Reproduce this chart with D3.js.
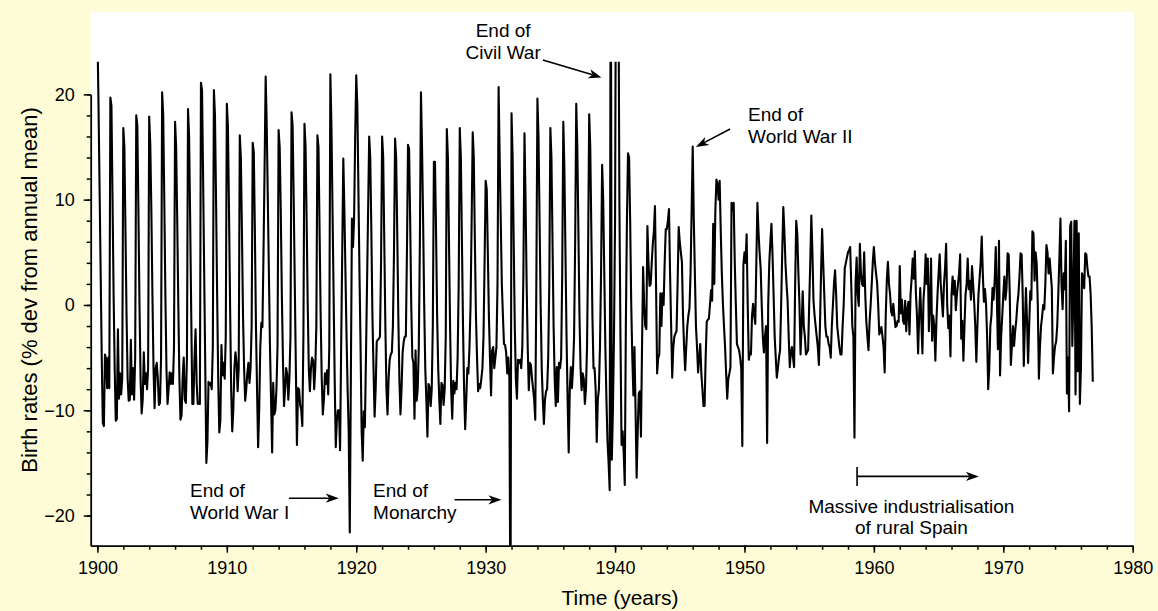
<!DOCTYPE html>
<html>
<head>
<meta charset="utf-8">
<script src="https://cdn.jsdelivr.net/npm/d3@7"></script>
<style>
  html, body { margin: 0; padding: 0; background: #fdfcd6; }
  svg { display: block; }
  text { font-family: "Liberation Sans", Arial, Helvetica, sans-serif; fill: #000; }
</style>
</head>
<body>
<svg id="chart" width="1158" height="611"></svg>
<script>
// Monthly birth rates in Spain, % deviation from the annual mean, Jan 1900 – Dec 1976.
const firstYear = 1900;
const birthDeviation = [
  /* 1900 */ 26, 19, 11, 3, -5, -11.2, -11.5, -4.7, -5.1, -7.9, -5, -7.9,
  /* 1901 */ 19.7, 18.9, 10, 1, -6, -11, -10.8, -2.3, -8.9, -6.5, -8.5, -7,
  /* 1902 */ 16.8, 15, 7, -1, -7, -9.1, -9, -3.3, -8.5, -6, -9, -5,
  /* 1903 */ 18, 17, 9, 0, -7, -10.3, -9, -4.5, -7.5, -6.5, -8, -6,
  /* 1904 */ 17.9, 15.3, 9, 1, -6, -9.8, -6, -5.5, -7, -9.5, -9.3, -5,
  /* 1905 */ 20.2, 18, 10, 1, -6, -9.4, -8, -6.4, -7.5, -6.5, -7.5, -4,
  /* 1906 */ 17.4, 15, 8, 0, -7, -10.9, -10.5, -7, -5, -9, -9.3, -5,
  /* 1907 */ 18.6, 16, 8, -1, -9.4, -9.4, -5, -2.3, -7.4, -9.4, -9.3, -9.4,
  /* 1908 */ 21.1, 20.4, 12, 3, -6, -15, -13, -7.3, -7.6, -7.4, -8, -4,
  /* 1909 */ 20.4, 18, 10, 1, -7, -12.1, -11, -3.8, -6.7, -5.5, -7, -3,
  /* 1910 */ 19.1, 17, 9, 0, -8, -12, -10, -6, -4.5, -5.5, -8.2, -6,
  /* 1911 */ 16.1, 14, 7, -1, -6, -9.1, -8, -6.5, -5.5, -7.4, -6, -2,
  /* 1912 */ 15.4, 14.5, 7, -2, -8, -13.5, -10, -4, -1.7, -2.1, 5, 13,
  /* 1913 */ 21.7, 17, 10, 3, -4, -9, -14, -7.4, -10.4, -10, -8, -4,
  /* 1914 */ 16.6, 15, 9, 1, -5, -9.6, -8, -6, -6.6, -9, -7, -3,
  /* 1915 */ 18.3, 17, 10, 2, -6, -13.3, -7.9, -8, -9.5, -10, -11.5, -3,
  /* 1916 */ 17.2, 15, 8, 0, -6, -8.2, -6, -5, -5.3, -8, -6, -2,
  /* 1917 */ 16.1, 15, 7, -1, -7, -10.4, -9, -6.5, -7.5, -6.2, -8.5, -4,
  /* 1918 */ 21.9, 17, 9, 1, -7, -13.5, -11, -10, -10, -13.8, -4, 5,
  /* 1919 */ 13.9, 9, 3, -3, -8, -12, -21.6, -7, 8.2, 5.5, 8.2, 16,
  /* 1920 */ 21.8, 19, 11, 3, -4, -12, -14.8, -10.1, -11.6, -5, 2, 9,
  /* 1921 */ 16, 14, 7, -1, -6, -10.6, -8, -3.5, -3.3, -3.2, -3, 4,
  /* 1922 */ 16, 14, 6, -2, -8, -10.4, -7, -5.2, -4.7, -4.5, -2, 5,
  /* 1923 */ 15.8, 14, 7, -1, -7, -10.4, -8, -4.5, -3.5, -3, -3, 5,
  /* 1924 */ 15.2, 14.8, 8, 0, -5, -5.5, -10.8, -4.3, -9.1, -8, -4, 6,
  /* 1925 */ 20.2, 15, 8, 0, -6, -9, -12.5, -7.5, -7.8, -9.6, -8, -2,
  /* 1926 */ 13.6, 13.6, 7, -1, -6, -9, -11.3, -7.4, -7.6, -9.5, -8, -3,
  /* 1927 */ 16.7, 14, 6, -2, -8, -10.8, -7.2, -8.4, -7.4, -8, -5, 2,
  /* 1928 */ 16.8, 14, 6, -2, -8, -11.8, -9, -6, -6.5, -4, 0, 8,
  /* 1929 */ 16.4, 14, 6, -1, -5, -8.2, -7.5, -7.9, -7, -6, -3, 4,
  /* 1930 */ 11.8, 11, 5, -1, -5, -8.6, -4.3, -4, -6, -5, -4, 2,
  /* 1931 */ 20.7, 14, 8, 2, -1, -3.7, -3.8, -4.5, -6.5, -5, -7, -32,
  /* 1932 */ 18.2, 14, 6, -2, -7, -8.9, -5.2, -5.5, -5.2, -6, -4, 3,
  /* 1933 */ 16.3, 10, 2, -4, -8.1, -5.5, -5.7, -7, -8, -9, -10.9, 2,
  /* 1934 */ 19.6, 16, 8, 0, -6, -9, -11.3, -9, -8.2, -8, -5, 2,
  /* 1935 */ 16.8, 14, 6, -2, -7, -9.6, -5.9, -9.2, -5.5, -6, -5, 3,
  /* 1936 */ 17.4, 13, 5, -3, -9, -14, -8, -5.9, -7.9, -6, -3, 6,
  /* 1937 */ 19.1, 15, 7, -1, -6, -8.1, -6.5, -7, -9.4, -8, -4, 5,
  /* 1938 */ 18.1, 15, 7, -1, -6, -6, -8, -13, -9, -8, -4, 3,
  /* 1939 */ 13.3, 10, 3, -4, -9, -13, -15, -17.6, 40, -14.7, -10, -3,
  /* 1940 */ 8, 40, 60, 35, 10, -3, -13.3, -12, -14, -17.1, -2, 8,
  /* 1941 */ 14.4, 14, 8, 0, -5, -8.6, -4, -10, -16.4, -12, -8.4, -8.2,
  /* 1942 */ -12.5, -4, 3.6, 0, -2, -2.3, 7.5, 4, 1.8, 2, 4, 5.8,
  /* 1943 */ 7, 9.4, 2, -6.5, -5, -4.7, 1.1, -2, 1.1, 0, 4, 7.2,
  /* 1944 */ 7.2, 8, 9.1, 3, -2, -6.9, -4, -3, -2.7, -2.5, 2, 7.4,
  /* 1945 */ 6, 5, 4.1, -1, -4, -6.2, -4, -2, -1, -0.3, 3, 9,
  /* 1946 */ 15.05, 8.2, 3, -2, -4, -6.4, -5, -3.7, -6.5, -8, -9.6, -9.6,
  /* 1947 */ -5, -1.6, -1.4, -1.3, 0, 1.4, 0.4, 7.7, 2, 9, 11.9, 11.5,
  /* 1948 */ 10, 11.8, 7, 3, 0.1, -2, -4, -6.5, -8.9, -7, -6.5, -5.9,
  /* 1949 */ 9.7, 9, 9.7, 4, 0, -3.7, -4, -4.3, -5, -6, -13.4, 3.8,
  /* 1950 */ 5, 4, 6.7, 0, -5.2, -4.5, -4.7, -1, 0.1, -1, -1.8, 4,
  /* 1951 */ 9.7, 7, 5, 3.5, 0, -3, -4.5, -3, -2, -13.1, 0, 4,
  /* 1952 */ 6, 7.7, 4.8, 1, -3, -5, -6.9, -6, -5, -4.3, 0, 5,
  /* 1953 */ 9.3, 7, 4, 2, 0.4, -3, -5.9, -4.5, -4, -5, -5.9, 2,
  /* 1954 */ 8, 6.7, 3, 0, -4.7, -2, 1.3, -2, -3, -4.7, -4.5, -4.3,
  /* 1955 */ 0, 4, 8.5, 5, 0.4, -1, -2, -3, -4, -5.7, -2, 3,
  /* 1956 */ 7.2, 4, 1, -2, -3, -3, -3.7, -4, -5, -2, 0, 2,
  /* 1957 */ 3.3, 1, -2, -3, -4, -4.7, -4.7, -2, 0, 3.5, 4, 4.5,
  /* 1958 */ 5, 5.2, 5.5, 2, -2, -3, -12.6, 2, 4.5, 1, -0.1, 5.8,
  /* 1959 */ 3, 2, 1.8, 5, 1, -1.6, -3, -4.3, -1.6, 0, 2, 4.1,
  /* 1960 */ 5.5, 4, 3, 2.1, 0, -2.8, -2.5, -2.1, -3, -4, -6.4, -1,
  /* 1961 */ 2.4, 4.1, 2, 1, -0.6, -1, 0.1, -1, -2.1, -2, -1.5, -1.6,
  /* 1962 */ 3.7, -0.8, 0.5, -1.5, -1.8, 0.4, -2.5, -0.5, 0.3, -2.8, 1, 2.5,
  /* 1963 */ 4.4, 2.5, 5.1, 1, -1.1, -4.6, -1, 1.6, -1.5, -4.6, 0.5, 2,
  /* 1964 */ 4.8, 2, 4.4, -2.5, 0, 4.4, -3.4, -1, -2, -5.3, -1.5, 1,
  /* 1965 */ 3, 4.8, 2, 0.5, -1.1, 2, 3.5, 5.8, 0, -2.2, -1, -4.9,
  /* 1966 */ 1, 2.7, 1, 2.3, -0.5, 1, 2, 3, 4.8, -3.2, -1.5, -5.3,
  /* 1967 */ -2, 1, 2, 4.4, 1.5, 2.3, 0.5, 3.7, 2, 0.3, -2, -5.4,
  /* 1968 */ -2, 1, 2.5, 4, 6.5, 3, 0.3, 1.5, 0.1, -3, -8, -6,
  /* 1969 */ -2, -1, 1.6, 0.5, 2.3, 5.5, 1, -4.2, 6.1, -6.7, -3, -1.1,
  /* 1970 */ 1, 2.7, 0.5, 1.6, 4.9, 4.8, 1, -5.7, -3.9, -2, -3.9, -2.5,
  /* 1971 */ -1.5, 0, 1, 2.7, 4.9, 4.8, 1, -5.8, -2, 1.6, -1.5, -5.5,
  /* 1972 */ -2, 1.3, 0.5, 7, 6.8, 2.3, 5, 3.9, 0, -7, -4, -2,
  /* 1973 */ -1.1, 0, -0.4, 2, 5.7, 5, 3, 4.4, 3, 1.6, -6.5, -5,
  /* 1974 */ -3.9, -3.5, -2, 1, 4.4, 8.2, 2, -0.4, 3, 1.5, 6.1, -8.4,
  /* 1975 */ -5, -10.1, 7.5, 7.9, -3.9, 1, 8, -8.5, 8, -6.3, 6.8, -9.4,
  /* 1976 */ -6, 3, 2.5, 1.6, 4.9, 4.8, 3.5, 2.7, 2.7, 1, -2.2, -7.3
];

const xMajorTicks = [1900, 1910, 1920, 1930, 1940, 1950, 1960, 1970, 1980];
const xMinorTicks = d3.range(1900, 1981, 2);
const yMajorTicks = [-20, -10, 0, 10, 20];
const yMinorTicks = d3.range(-20, 21, 2);

// Event notes: text lines, where the text sits (year, value of first baseline), arrow from/to.
const eventNotes = [
  { lines: ["End of", "World War I"], at: [1907.15, -18.25], anchor: "start", from: [1914.8, -18.35], to: [1918.65, -18.35] },
  { lines: ["End of", "Monarchy"], at: [1921.3, -18.25], anchor: "start", from: [1927.6, -18.5], to: [1931.22, -18.5] },
  { lines: ["End of", "Civil War"], at: [1931.35, 25.4], anchor: "middle", from: [1934.42, 23.27], to: [1938.95, 21.6] },
  { lines: ["End of", "World War II"], at: [1950.28, 17.44], anchor: "start", from: [1948.89, 16.71], to: [1946.24, 15.0] }
];
const industrialNote = { lines: ["Massive industrialisation", "of rural Spain"], at: [1962.9, -19.77], start: 1958.7, end: 1968.11, level: -16.28 };

const svg = d3.select("#chart");
const left = 90.7, right = 1132.7, bottom = 545.7, clipTop = 61.7, panelTop = 11.7;

const x = d3.scaleLinear().domain([1899.48, 1980]).range([left, right]);
const y = d3.scaleLinear().domain([-22.86, 23.1]).range([bottom, clipTop]);

// white plotting panel
svg.append("rect")
  .attr("x", left).attr("y", panelTop)
  .attr("width", right + 1.5 - left).attr("height", bottom - panelTop)
  .attr("fill", "#ffffff");

svg.append("clipPath").attr("id", "plotClip")
  .append("rect").attr("x", left).attr("y", clipTop)
  .attr("width", right - left).attr("height", bottom - clipTop);

const series = birthDeviation.map((v, i) => ({ t: firstYear + i / 12, v }));

svg.append("path")
  .datum(series)
  .attr("clip-path", "url(#plotClip)")
  .attr("fill", "none")
  .attr("stroke", "#000")
  .attr("stroke-width", 2.1)
  .attr("stroke-linejoin", "round")
  .attr("d", d3.line().x(d => x(d.t)).y(d => y(d.v)));

// x axis
const xAxisG = svg.append("g").attr("transform", `translate(0,${bottom})`);
xAxisG.call(d3.axisBottom(x).tickValues(xMinorTicks).tickSize(4).tickSizeOuter(0).tickFormat(""));
const xMajor = svg.append("g").attr("transform", `translate(0,${bottom})`)
  .call(d3.axisBottom(x).tickValues(xMajorTicks).tickSize(7).tickSizeOuter(0).tickPadding(9).tickFormat(d3.format("d")));
xMajor.select(".domain").remove();
svg.selectAll(".domain").attr("stroke", "#000").attr("stroke-width", 1.8);
svg.selectAll(".tick line").attr("stroke", "#000").attr("stroke-width", 1.5);
xMajor.selectAll("text").attr("font-size", 18).attr("font-family", "Liberation Sans, Arial, sans-serif");

// y axis; the axis line stops at the top labelled tick
const yAxisScale = y.copy().domain([-22.86, 20]).range([y(-22.86), y(20)]);
const yMinorG = svg.append("g").attr("transform", `translate(${left},0)`)
  .call(d3.axisLeft(yAxisScale).tickValues(yMinorTicks).tickSize(4).tickSizeOuter(0).tickFormat(""));
const yMajorG = svg.append("g").attr("transform", `translate(${left},0)`)
  .call(d3.axisLeft(yAxisScale).tickValues(yMajorTicks).tickSize(7).tickSizeOuter(0).tickPadding(9)
    .tickFormat(d => d < 0 ? "\u2212" + Math.abs(d) : String(d)));
yMajorG.select(".domain").remove();
yMinorG.select(".domain").attr("stroke", "#000").attr("stroke-width", 1.8);
svg.selectAll(".tick line").attr("stroke", "#000").attr("stroke-width", 1.5);
yMajorG.selectAll("text").attr("font-size", 18).attr("font-family", "Liberation Sans, Arial, sans-serif");

// axis titles
svg.append("text")
  .attr("x", 620).attr("y", 605)
  .attr("text-anchor", "middle").attr("font-size", 21)
  .text("Time (years)");
svg.append("text")
  .attr("transform", "translate(37,290) rotate(-90)")
  .attr("text-anchor", "middle").attr("font-size", 22)
  .text("Birth rates (% dev from annual mean)");

// arrow with a barbed head ending at (x2,y2)
function arrow(x1, y1, x2, y2) {
  const dx = x2 - x1, dy = y2 - y1, len = Math.hypot(dx, dy);
  const ux = dx / len, uy = dy / len, px = -uy, py = ux;
  const L = 13, W = 4.6;
  const bx = x2 - ux * L, by = y2 - uy * L;
  const nx = x2 - ux * L * 0.72, ny = y2 - uy * L * 0.72;
  svg.append("line")
    .attr("x1", x1).attr("y1", y1).attr("x2", nx).attr("y2", ny)
    .attr("stroke", "#000").attr("stroke-width", 1.6);
  svg.append("path")
    .attr("d", `M${x2},${y2}L${bx + px * W},${by + py * W}L${nx},${ny}L${bx - px * W},${by - py * W}Z`)
    .attr("fill", "#000");
}

const lineGap = 21.5;
eventNotes.forEach(n => {
  const t = svg.append("text")
    .attr("x", x(n.at[0])).attr("y", y(n.at[1]))
    .attr("text-anchor", n.anchor).attr("font-size", 19);
  n.lines.forEach((s, i) => {
    t.append("tspan").attr("x", x(n.at[0])).attr("dy", i === 0 ? 0 : lineGap).text(s);
  });
  arrow(x(n.from[0]), y(n.from[1]), x(n.to[0]), y(n.to[1]));
});

// industrialisation span marker
{
  const n = industrialNote;
  const yl = y(n.level);
  svg.append("line")
    .attr("x1", x(n.start)).attr("x2", x(n.start))
    .attr("y1", yl - 9.5).attr("y2", yl + 9.5)
    .attr("stroke", "#000").attr("stroke-width", 1.6);
  arrow(x(n.start), yl, x(n.end), yl);
  const t = svg.append("text")
    .attr("x", x(n.at[0])).attr("y", y(n.at[1]))
    .attr("text-anchor", "middle").attr("font-size", 19);
  n.lines.forEach((s, i) => {
    t.append("tspan").attr("x", x(n.at[0])).attr("dy", i === 0 ? 0 : 20.7).text(s);
  });
}
</script>
</body>
</html>
